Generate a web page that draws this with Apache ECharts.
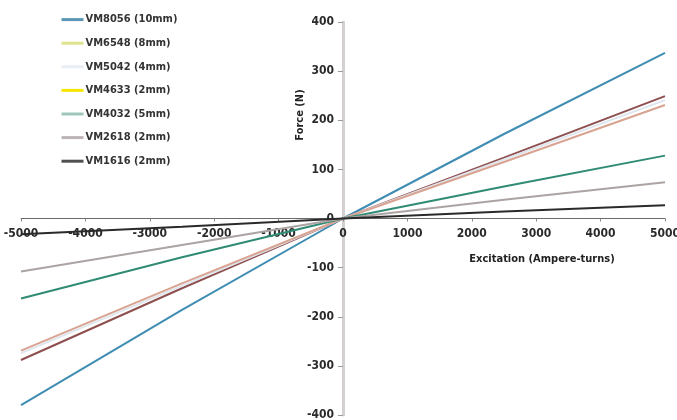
<!DOCTYPE html>
<html>
<head>
<meta charset="utf-8">
<script src="https://cdn.jsdelivr.net/npm/echarts@6/dist/echarts.min.js"></script>
<style>
  html, body { margin: 0; padding: 0; background: #fff; }
  #chart { width: 677px; height: 420px; }
</style>
</head>
<body>
<div id="chart"></div>
<script>
// Excitation (ampere-turns) sample points
const excitation = [-5000, -2500, 0, 2500, 5000];

// Force (N) per actuator model
const vm8056 = [-380, -186, 0, 172, 337];
const vm6548 = [-288, -142, 0, 124, 249];
const vm5042 = [-274, -137, 0, 120, 241];
const vm4633 = [-269, -132, 0, 115, 231];
const vm4032 = [-163, -79, 0, 65, 128];
const vm2618 = [-108, -54, 0, 38, 74];
const vm1616 = [-32, -17, 0, 14, 27];

const seriesNames = [
  'VM8056 (10mm)', 'VM6548 (8mm)', 'VM5042 (4mm)', 'VM4633 (2mm)',
  'VM4032 (5mm)', 'VM2618 (2mm)', 'VM1616 (2mm)'
];
const seriesValues = [vm8056, vm6548, vm5042, vm4633, vm4032, vm2618, vm1616];
const lineColors = ['#3f8db3', '#8e4f4f', '#dfe6ee', '#d9a391', '#2f8b74', '#aca3a3', '#2a2a2a'];
const swatchColors = ['#5a97b5', '#dfe38c', '#e8eef4', '#f6e600', '#9fc7bc', '#bdb5b5', '#505050'];

const FONT = 'DejaVu Sans Condensed';

// plot area
const GRID = { left: 21, right: 12, top: 22, bottom: 5 };
const W = 677 - GRID.left - GRID.right;
const H = 420 - GRID.top - GRID.bottom;

const chart = echarts.init(document.getElementById('chart'), null, { renderer: 'canvas' });

chart.setOption({
  animation: false,
  backgroundColor: '#ffffff',
  grid: Object.assign({ containLabel: false, outerBoundsMode: 'none' }, GRID),
  legend: {
    orient: 'vertical',
    left: 55,
    top: 9,
    itemWidth: 22,
    itemHeight: 14,
    itemGap: 12.4,
    textStyle: {
      fontFamily: FONT, fontSize: 11, fontWeight: 'bold', color: '#333',
      padding: [0, 0, 0, -3]
    },
    data: seriesNames.map((n, i) => ({
      name: n,
      lineStyle: { color: swatchColors[i], width: 3 },
      itemStyle: { color: swatchColors[i], opacity: 0 }
    }))
  },
  xAxis: {
    type: 'value',
    min: -5000,
    max: 5000,
    interval: 1000,
    // axis drawn through the vertical middle of the plot (force = 0)
    offset: -H / 2,
    axisLine: { onZero: false, lineStyle: { color: '#6a6a6a', width: 1 } },
    axisTick: { show: true, length: 3, lineStyle: { color: '#888' } },
    axisLabel: {
      margin: 9, fontFamily: FONT, fontSize: 12, fontWeight: 'bold', color: '#2a2a2a',
      formatter: v => String(v)
    },
    splitLine: { show: false }
  },
  yAxis: {
    type: 'value',
    min: -400,
    max: 400,
    interval: 100,
    // axis drawn through the horizontal middle of the plot (excitation = 0)
    offset: -W / 2,
    axisLine: { onZero: false, lineStyle: { color: '#d4d0d0', width: 3 } },
    axisTick: { show: true, length: 5, lineStyle: { color: '#999' } },
    axisLabel: {
      margin: 9, fontFamily: FONT, fontSize: 12, fontWeight: 'bold', color: '#2a2a2a',
      formatter: v => String(v)
    },
    splitLine: { show: false }
  },
  graphic: [
    {
      type: 'text',
      x: 300,
      y: 115,
      rotation: Math.PI / 2,
      style: {
        text: 'Force (N)',
        font: 'bold 11px "' + FONT + '"',
        fill: '#222',
        align: 'center',
        verticalAlign: 'middle'
      }
    },
    {
      type: 'text',
      x: 542,
      y: 259,
      style: {
        text: 'Excitation (Ampere-turns)',
        font: 'bold 11px "' + FONT + '"',
        fill: '#222',
        align: 'center',
        verticalAlign: 'middle'
      }
    }
  ],
  series: seriesNames.map((n, i) => ({
    name: n,
    type: 'line',
    symbol: 'none',
    data: excitation.map((x, j) => [x, seriesValues[i][j]]),
    lineStyle: { color: lineColors[i], width: 2 },
    itemStyle: { color: lineColors[i] },
    z: 3
  }))
});
</script>
</body>
</html>
